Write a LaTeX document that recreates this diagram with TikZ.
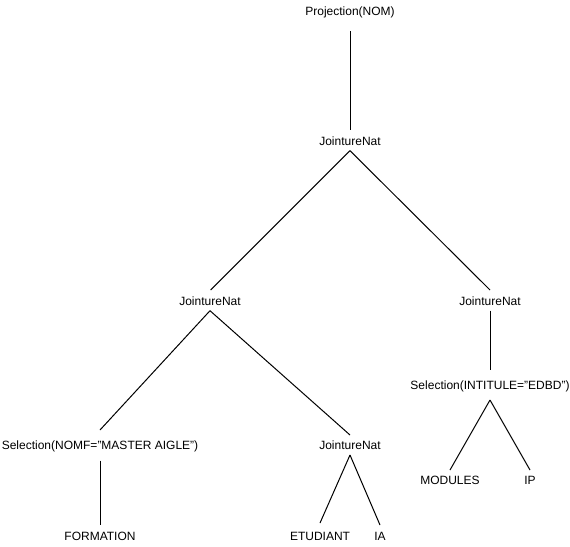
\documentclass[tikz,border=0pt]{standalone}
\usepackage{fontspec}
\setmainfont{Liberation Sans}
\usetikzlibrary{calc}
\tikzset{
  op/.style={inner sep=0pt, text height=8.6pt, text depth=0pt,
             font=\fontsize{12pt}{14pt}\selectfont, text=black},
  edge/.style={draw=black, line width=1pt}
}
\begin{document}
\begin{tikzpicture}[x=1pt,y=-1pt]
  \useasboundingbox (0,0) rectangle (570,546);

  % operators of the query tree
  \node[op] (proj)  at (350,11.5) {Projection(NOM)};
  \node[op] (jn1)   at (350,141)  {JointureNat};
  \node[op] (jn2)   at (210,301)  {JointureNat};
  \node[op] (jn3)   at (490,301)  {JointureNat};
  \node[op] (selA)  at (100,445)  {Selection(NOMF="MASTER AIGLE")};
  \node[op] (jn4)   at (350,445)  {JointureNat};
  \node[op] (selB)  at (490,385)  {Selection(INTITULE="EDBD")};

  % relations (leaves)
  \node[op] (formation) at (100,536) {FORMATION};
  \node[op] (etudiant)  at (320,536) {ETUDIANT};
  \node[op] (ia)        at (380,536) {IA};
  \node[op] (modules)   at (450,480) {MODULES};
  \node[op] (ip)        at (530,480) {IP};

  % tree edges
  \draw[edge] ($(proj.center)+(0,19.5)$) -- ($(jn1.center)+(0,-11)$);
  \draw[edge] ($(jn1.center)+(0,9.7)$) -- ($(jn2.center)+(0.7,-11)$);
  \draw[edge] ($(jn1.center)+(0,9.7)$) -- ($(jn3.center)+(0,-11)$);
  \draw[edge] ($(jn2.center)+(0,9.7)$) -- ($(selA.center)+(0,-15)$);
  \draw[edge] ($(jn2.center)+(0,9.7)$) -- ($(jn4.center)+(0,-10)$);
  \draw[edge] ($(jn3.center)+(0,9.7)$) -- ($(selB.center)+(0,-15)$);
  \draw[edge] ($(selB.center)+(0,15)$) -- ($(modules.center)+(0,-10)$);
  \draw[edge] ($(selB.center)+(0,15)$) -- ($(ip.center)+(0,-10)$);
  \draw[edge] ($(selA.center)+(0,15.7)$) -- ($(formation.center)+(0,-11)$);
  \draw[edge] ($(jn4.center)+(0,10)$) -- ($(etudiant.center)+(0,-13)$);
  \draw[edge] ($(jn4.center)+(0,10)$) -- ($(ia.center)+(0,-11)$);
\end{tikzpicture}
\end{document}
